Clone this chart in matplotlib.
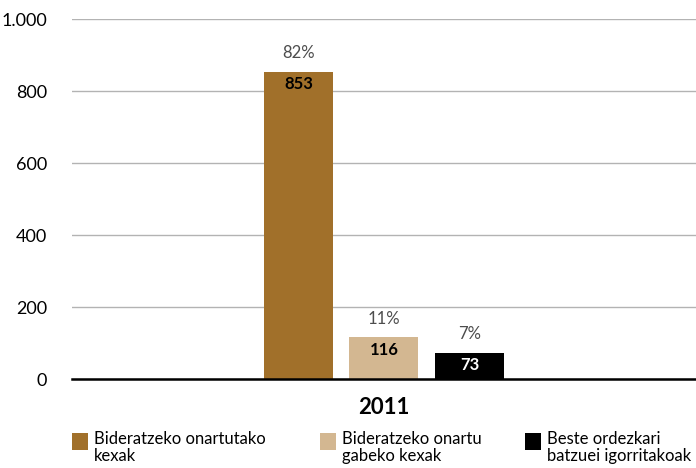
import matplotlib.pyplot as plt
from matplotlib.patches import Rectangle

plt.rcParams['font.family'] = ['Lato', 'DejaVu Sans']

categories = ['Bideratzeko onartutako\nkexak', 'Bideratzeko onartu\ngabeko kexak', 'Beste ordezkari\nbatzuei igorritakoak']
values = [853, 116, 73]
percents = ['82%', '11%', '7%']
colors = ['#A1702A', '#D3B791', '#000000']
year = '2011'
yticks = [0, 200, 400, 600, 800, 1000]
yticklabels = ['0', '200', '400', '600', '800', '1.000']

fig = plt.figure(figsize=(6.96, 4.68), dpi=100)
ax = fig.add_axes([0.1034, 0.19, 0.8966, 0.769])

x = range(len(values))
ax.bar(x, values, width=0.807, color=colors, zorder=3)

for i, (v, p) in enumerate(zip(values, percents)):
    ax.text(i, v + 30, p, ha='center', va='bottom', fontsize=12, color='#4d4d4d')
    ax.text(i, v - 12, str(v), ha='center', va='top', fontsize=12, fontweight='bold',
            color='white' if colors[i] == '#000000' else 'black')

ax.set_xlim(1 - 3.65, 1 + 3.65)
ax.set_ylim(0, 1000)
ax.set_yticks(yticks)
ax.set_yticklabels(yticklabels, fontsize=13)
ax.set_xticks([])
ax.grid(axis='y', color='#b3b3b3', linewidth=1, zorder=0)
for s in ['top', 'right', 'left']:
    ax.spines[s].set_visible(False)
ax.spines['bottom'].set_linewidth(1.8)
ax.spines['bottom'].set_zorder(4)
ax.tick_params(axis='y', length=0, pad=18)

ax.text(1, -80, year, ha='center', va='center', fontsize=16, fontweight='bold',
        transform=ax.transData)

# legend
leg_x = [72, 320, 525]
for lx, lab, c in zip(leg_x, categories, colors):
    fig.patches.append(Rectangle((lx / 696, 1 - 450 / 468), 16 / 696, 17 / 468,
                                 transform=fig.transFigure, facecolor=c, edgecolor='none'))
    fig.text((lx + 22) / 696, 1 - 431 / 468, lab, ha='left', va='top', fontsize=12,
             linespacing=1.05)

fig.savefig('out.png', dpi=100)
